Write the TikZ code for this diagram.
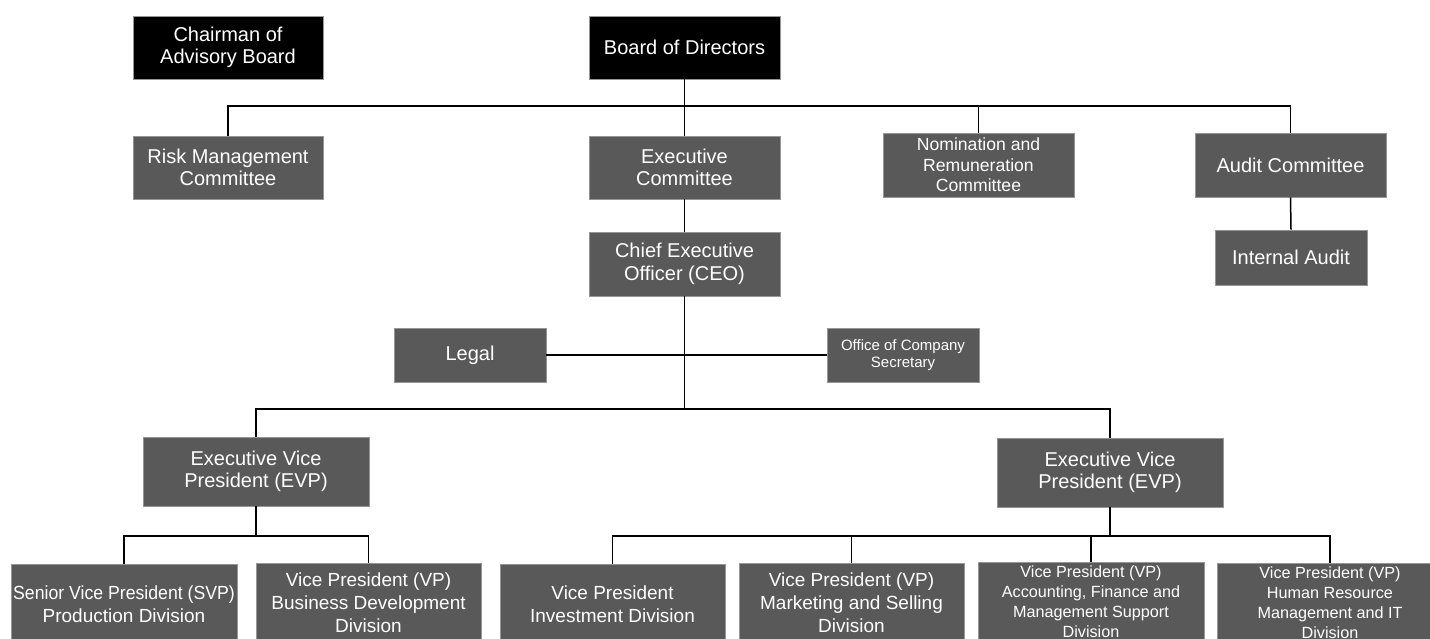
\documentclass[tikz,border=0pt]{standalone}
\usepackage{fontspec}
\usepackage{graphicx}
\setmainfont{Liberation Sans}
\tikzset{
  box/.style={fill=boxgray, draw=bordergray, line width=0.8pt, text=white, align=center, inner sep=0pt},
  topbox/.style={box, fill=black},
  link/.style={draw=black, line width=1.5pt},
  fA/.style={font=\fontsize{20}{22.5}\selectfont},
  fB/.style={font=\fontsize{19}{23}\selectfont},
  fC/.style={font=\fontsize{17.6}{20.5}\selectfont},
  fD/.style={font=\fontsize{16.2}{20}\selectfont},
  fE/.style={font=\fontsize{15}{17}\selectfont},
}
\definecolor{boxgray}{RGB}{89,89,89}
\definecolor{bordergray}{RGB}{150,150,150}
\begin{document}
\begin{tikzpicture}[x=1pt,y=-1pt]
\useasboundingbox (0,0) rectangle (1430,639);
\fill[white] (0,0) rectangle (1430,639);
\clip (0,0) rectangle (1430,639);
% top row
\node[topbox, fA, minimum width=190, minimum height=63] (chair) at (228,47.5) {Chairman of\\Advisory Board};
\node[topbox, fA, minimum width=191, minimum height=63] (board) at (684.5,47.5) {Board of Directors};
% committees
\node[box, fA, minimum width=190, minimum height=63] (risk) at (228,167.5) {Risk Management\\Committee};
\node[box, fA, minimum width=191, minimum height=63] (exec) at (684.5,167.5) {Executive\\Committee};
\node[box, fC, minimum width=191, minimum height=64] (nom) at (978.5,165) {Nomination and\\Remuneration\\Committee};
\node[box, fA, minimum width=191, minimum height=64] (audit) at (1290.5,165) {Audit Committee};
\node[box, fA, minimum width=152, minimum height=55] (ia) at (1291,257.5) {Internal Audit};
\node[box, fA, minimum width=191, minimum height=64] (ceo) at (684.5,264) {Chief Executive\\Officer (CEO)};
\node[box, fA, minimum width=152, minimum height=54] (legal) at (470,355) {Legal};
\node[box, fE, minimum width=152, minimum height=54] (office) at (903,355) {Office of Company\\Secretary};
% EVPs
\node[box, fA, minimum width=226, minimum height=69] (evpl) at (256,471.5) {Executive Vice\\President (EVP)};
\node[box, fA, minimum width=226, minimum height=69] (evpr) at (1110,472.5) {Executive Vice\\President (EVP)};
% bottom row
\node[box, fB, minimum width=226, minimum height=80] (svp) at (124,604) {\scalebox{0.93}[1]{Senior Vice President (SVP)}\\Production Division};
\node[box, fB, minimum width=225, minimum height=80] (vpbd) at (368.5,603) {Vice President (VP)\\Business Development\\Division};
\node[box, fB, minimum width=225, minimum height=80] (inv) at (612.5,604) {Vice President\\Investment Division};
\node[box, fB, minimum width=225, minimum height=80] (mkt) at (851.5,603) {Vice President (VP)\\Marketing and Selling\\Division};
\node[box, fD, minimum width=226, minimum height=80] (acc) at (1091,602) {Vice President (VP)\\Accounting, Finance and\\Management Support\\Division};
\node[box, fD, minimum width=226, minimum height=80] (hr) at (1330,603) {Vice President (VP)\\Human Resource\\Management and IT\\Division};
% bus coordinates
\coordinate (busA) at (0,106);
\coordinate (busB) at (0,409);
\coordinate (busC) at (0,536);
% connectors
\draw[link] (board.south) -- (exec.north);
\draw[link] (risk.north) |- (busA -| audit.north) -- (audit.north);
\draw[link] (nom.north) -- (nom.north |- busA);
\draw[link] (exec.south) -- (ceo.north);
\draw[link] (audit.south) -- (ia.north);
\draw[link] (ceo.south) -- (ceo.south |- busB);
\draw[link] (legal.east) -- (office.west);
\draw[link] (evpl.north) |- (busB -| evpr.north) -- (evpr.north);
\draw[link] (evpl.south) -- (evpl.south |- busC);
\draw[link] (svp.north) |- (busC -| vpbd.north) -- (vpbd.north);
\draw[link] (evpr.south) -- (evpr.south |- busC);
\draw[link] (inv.north) |- (busC -| hr.north) -- (hr.north);
\draw[link] (mkt.north) -- (mkt.north |- busC);
\draw[link] (acc.north) -- (acc.north |- busC);
\end{tikzpicture}
\end{document}
